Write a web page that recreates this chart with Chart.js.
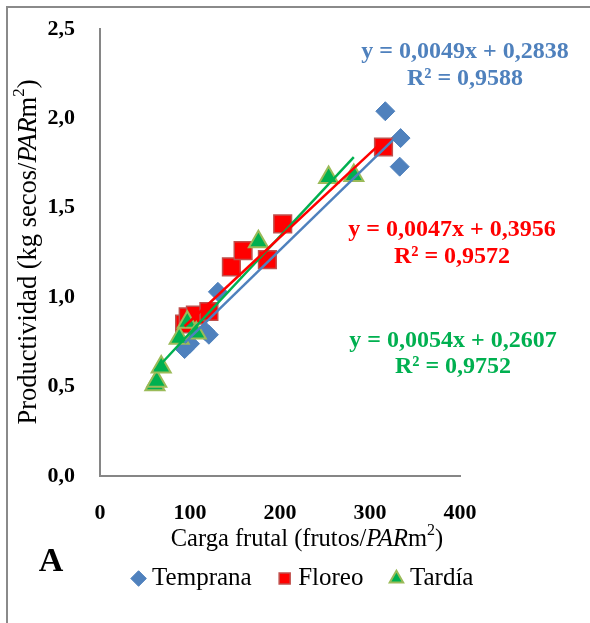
<!DOCTYPE html>
<html>
<head>
<meta charset="utf-8">
<script src="https://cdn.jsdelivr.net/npm/chart.js@4.4.1/dist/chart.umd.min.js"></script>
<style>
html, body { margin: 0; padding: 0; background: #fff; }
</style>
</head>
<body>
<canvas id="chart" width="590" height="623"></canvas>
<script>
// datos
const seriesNames = ["Temprana", "Floreo", "Tardía"]

const tempranaX = [94, 100, 117, 121, 131, 317, 334, 333]
const tempranaY = [0.71, 0.74, 0.81, 0.79, 1.03, 2.04, 1.89, 1.73]

const floreoX = [94, 98, 106, 121, 146, 159, 186, 203, 315]
const floreoY = [0.85, 0.89, 0.90, 0.92, 1.17, 1.26, 1.21, 1.41, 1.84]

const tardiaX = [61, 63, 68, 88, 97, 107, 176, 254, 282]
const tardiaY = [0.51, 0.53, 0.61, 0.77, 0.86, 0.80, 1.31, 1.67, 1.68]

// lineas de tendencia (ecuaciones del grafico)
const fitSlope = [0.0049, 0.0047, 0.0054]
const fitIntercept = [0.2838, 0.3956, 0.2607]
const fitR2 = ["0,9588", "0,9572", "0,9752"]

const xTickLabels = ["0", "100", "200", "300", "400"]
const yTickLabels = ["0,0", "0,5", "1,0", "1,5", "2,0", "2,5"]

const colors = ["#4F81BD", "#FF0000", "#00B050"]
const serif = "'Liberation Serif', 'Times New Roman', serif"

Chart.defaults.font.family = serif
Chart.defaults.color = "#000"

function points(xs, ys) {
    return xs.map((x, i) => ({x: x, y: ys[i]}))
}

function trend(k, xs) {
    let x0 = Math.min(...xs)
    let x1 = Math.max(...xs)
    return [
        {x: x0, y: fitSlope[k] * x0 + fitIntercept[k]},
        {x: x1, y: fitSlope[k] * x1 + fitIntercept[k]}
    ]
}

function comma(v, d) {
    return v.toFixed(d).replace(".", ",")
}

// texto con partes de distinto estilo, centrado en cx
function drawRich(c, parts, cx, cy) {
    let total = 0
    parts.forEach(p => { c.font = p[1]; total += c.measureText(p[0]).width })
    let x = cx - total / 2
    parts.forEach(p => {
        c.font = p[1]
        c.fillText(p[0], x, cy + (p[2] || 0))
        x += c.measureText(p[0]).width
    })
}

const textPlugin = {
    id: "texts",
    afterDraw(ch) {
        let c = ch.ctx
        c.save()
        c.textBaseline = "middle"
        c.textAlign = "left"

        // marco
        c.strokeStyle = "#8a8a8a"
        c.lineWidth = 2
        c.beginPath()
        c.moveTo(7, 623)
        c.lineTo(7, 7)
        c.lineTo(590, 7)
        c.stroke()

        c.fillStyle = "#000"

        // titulo eje x
        let reg = "24.5px " + serif
        drawRich(c, [
            ["Carga frutal (frutos/", reg], ["PAR", "italic " + reg], ["m", reg],
            ["2", "16px " + serif, -9], [")", reg]
        ], 307, 540)

        // titulo eje y
        reg = "26.5px " + serif
        c.save()
        c.translate(29, 252)
        c.rotate(-Math.PI / 2)
        drawRich(c, [
            ["Productividad (kg secos/", reg], ["PAR", "italic " + reg], ["m", reg],
            ["2", "17px " + serif, -9], [")", reg]
        ], 0, 0)
        c.restore()

        // letra del panel
        c.font = "bold 34px " + serif
        c.textAlign = "center"
        c.fillText("A", 51, 562)

        // ecuaciones
        let eqPos = [[465, 52, 79], [452, 230, 257], [453, 341, 367]]
        c.font = "bold 24px " + serif
        for (let k = 0; k < 3; k++) {
            c.fillStyle = colors[k]
            let eq = "y = " + comma(fitSlope[k], 4) + "x + " + comma(fitIntercept[k], 4)
            c.fillText(eq, eqPos[k][0], eqPos[k][1])
            c.fillText("R² = " + fitR2[k], eqPos[k][0], eqPos[k][2])
        }
        c.restore()
    }
}

let chart = new Chart("chart", {
    type: "scatter",
    data: {
        datasets: [
            {
                type: "line", label: "t1", data: trend(0, tempranaX),
                borderColor: colors[0], borderWidth: 2.5, pointRadius: 0, order: 0
            },
            {
                type: "line", label: "t2", data: trend(1, floreoX),
                borderColor: colors[1], borderWidth: 2.5, pointRadius: 0, order: 0
            },
            {
                type: "line", label: "t3", data: trend(2, tardiaX),
                borderColor: colors[2], borderWidth: 2.5, pointRadius: 0, order: 0
            },
            {
                label: seriesNames[0], data: points(tempranaX, tempranaY),
                pointStyle: "rectRot", pointRadius: 9.5,
                backgroundColor: "#4F81BD", borderColor: "#4F81BD", borderWidth: 1, order: 3
            },
            {
                label: seriesNames[1], data: points(floreoX, floreoY),
                pointStyle: "rect", pointRadius: 12.5,
                backgroundColor: "#FF0000", borderColor: "#C0504D", borderWidth: 1.5, order: 2
            },
            {
                label: seriesNames[2], data: points(tardiaX, tardiaY),
                pointStyle: "triangle", pointRadius: 11,
                backgroundColor: "#00B050", borderColor: "#9BBB59", borderWidth: 2, order: 1
            }
        ]
    },
    options: {
        responsive: false,
        animation: false,
        layout: {padding: {top: 29, left: 21, right: 0, bottom: 22}},
        scales: {
            x: {
                type: "linear", min: 0, max: 400,
                ticks: {
                    stepSize: 100, padding: 24, color: "#000",
                    font: {family: serif, size: 22, weight: "bold"},
                    callback: (v, i) => xTickLabels[i]
                },
                grid: {display: false, drawTicks: false},
                border: {display: true, color: "#868686", width: 2},
                afterFit(s) { s.height = 58 }
            },
            y: {
                min: 0, max: 2.5,
                ticks: {
                    stepSize: 0.5, padding: 0, color: "#000",
                    font: {family: serif, size: 22, weight: "bold"},
                    callback: (v, i) => yTickLabels[i]
                },
                grid: {display: false, drawTicks: true, tickLength: 25},
                border: {display: true, color: "#868686", width: 2},
                afterFit(s) { s.width = 79 }
            },
            y2: {
                position: "right", display: true,
                ticks: {display: false},
                grid: {display: false, drawTicks: false},
                border: {display: false},
                afterFit(s) { s.width = 130 }
            }
        },
        plugins: {
            tooltip: {enabled: false},
            legend: {
                position: "bottom",
                labels: {
                    usePointStyle: true, boxWidth: 2, boxHeight: 11, padding: 32,
                    color: "#000", font: {family: serif, size: 25, weight: "normal"},
                    filter: item => item.datasetIndex >= 3,
                    sort: (a, b) => a.datasetIndex - b.datasetIndex
                }
            }
        }
    },
    plugins: [textPlugin]
})
</script>
</body>
</html>
